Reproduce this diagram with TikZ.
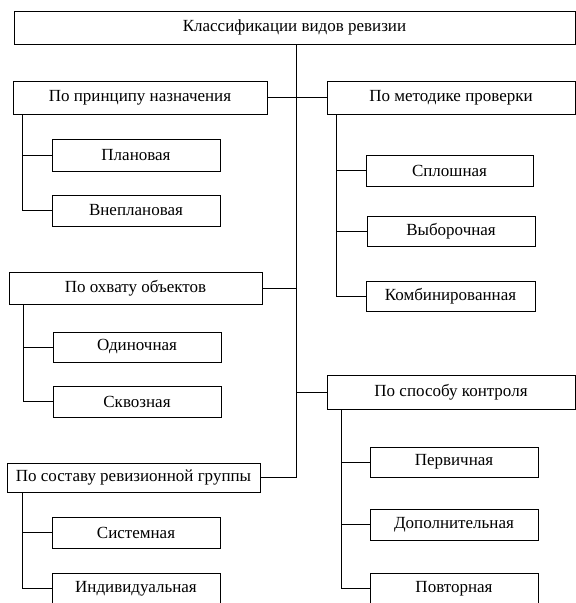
\documentclass[tikz,border=0pt]{standalone}
\usepackage{fontspec}
\setmainfont{Liberation Serif}
\begin{document}
\begin{tikzpicture}[x=1pt,y=-1pt,
  box/.style={draw=black,line width=1pt,fill=white,inner sep=0pt,font=\fontsize{17}{19}\selectfont},
  conn/.style={draw=black,line width=1pt}]
\useasboundingbox (0,0) rectangle (576,603);
\clip (0,0) rectangle (576,603);
\node[box,minimum width=561pt,minimum height=33pt] (top) at (294.5,27.5) {Классификации видов ревизии};
\node[box,minimum width=254pt,minimum height=33pt] (p1) at (140,97.5) {По принципу назначения};
\node[box,minimum width=248pt,minimum height=33pt] (p2) at (451,97.5) {По методике проверки};
\node[box,minimum width=168pt,minimum height=32pt] (c1) at (136,155) {Плановая};
\node[box,minimum width=168pt,minimum height=31pt] (c2) at (136,210.5) {Внеплановая};
\node[box,minimum width=253pt,minimum height=32pt] (p3) at (135.5,288) {По охвату объектов};
\node[box,minimum width=168pt,minimum height=30pt] (c3) at (137,347) {Одиночная};
\node[box,minimum width=168pt,minimum height=31pt] (c4) at (137,401.5) {Сквозная};
\node[box,minimum width=253pt,minimum height=29pt] (p4) at (133.5,477.5) {По составу ревизионной группы};
\node[box,minimum width=168pt,minimum height=31pt] (c5) at (136,532.5) {Системная};
\node[box,minimum width=168pt,minimum height=31pt] (c6) at (136,588.5) {Индивидуальная};
\node[box,minimum width=167pt,minimum height=31pt] (m1) at (449.5,170.5) {Сплошная};
\node[box,minimum width=168pt,minimum height=30pt] (m2) at (451,231) {Выборочная};
\node[box,minimum width=169pt,minimum height=30pt] (m3) at (450.5,296) {Комбинированная};
\node[box,minimum width=248pt,minimum height=34pt] (p5) at (451,392) {По способу контроля};
\node[box,minimum width=168pt,minimum height=30pt] (k1) at (454,462) {Первичная};
\node[box,minimum width=168pt,minimum height=31pt] (k2) at (454,524.5) {Дополнительная};
\node[box,minimum width=168pt,minimum height=31pt] (k3) at (454,588.5) {Повторная};
\coordinate (tr) at ([xshift=1.5pt]top.south);
% trunk
\draw[conn] (tr) |- (p4.east);
\draw[conn] (p1.east) -- (p2.west);
\draw[conn] (p3.east) -- (p3.east -| tr);
\draw[conn] (p5.west) -- (p5.west -| tr);
% branches
\draw[conn] ([xshift=10pt]p1.south west) |- (c1.west);
\draw[conn] ([xshift=10pt]p1.south west) |- (c2.west);
\draw[conn] ([xshift=10pt]p2.south west) |- (m1.west);
\draw[conn] ([xshift=10pt]p2.south west) |- (m2.west);
\draw[conn] ([xshift=10pt]p2.south west) |- (m3.west);
\draw[conn] ([xshift=15pt]p3.south west) |- (c3.west);
\draw[conn] ([xshift=15pt]p3.south west) |- (c4.west);
\draw[conn] ([xshift=16pt]p4.south west) |- (c5.west);
\draw[conn] ([xshift=16pt]p4.south west) |- (c6.west);
\draw[conn] ([xshift=15pt]p5.south west) |- (k1.west);
\draw[conn] ([xshift=15pt]p5.south west) |- (k2.west);
\draw[conn] ([xshift=15pt]p5.south west) |- (k3.west);
\end{tikzpicture}
\end{document}
